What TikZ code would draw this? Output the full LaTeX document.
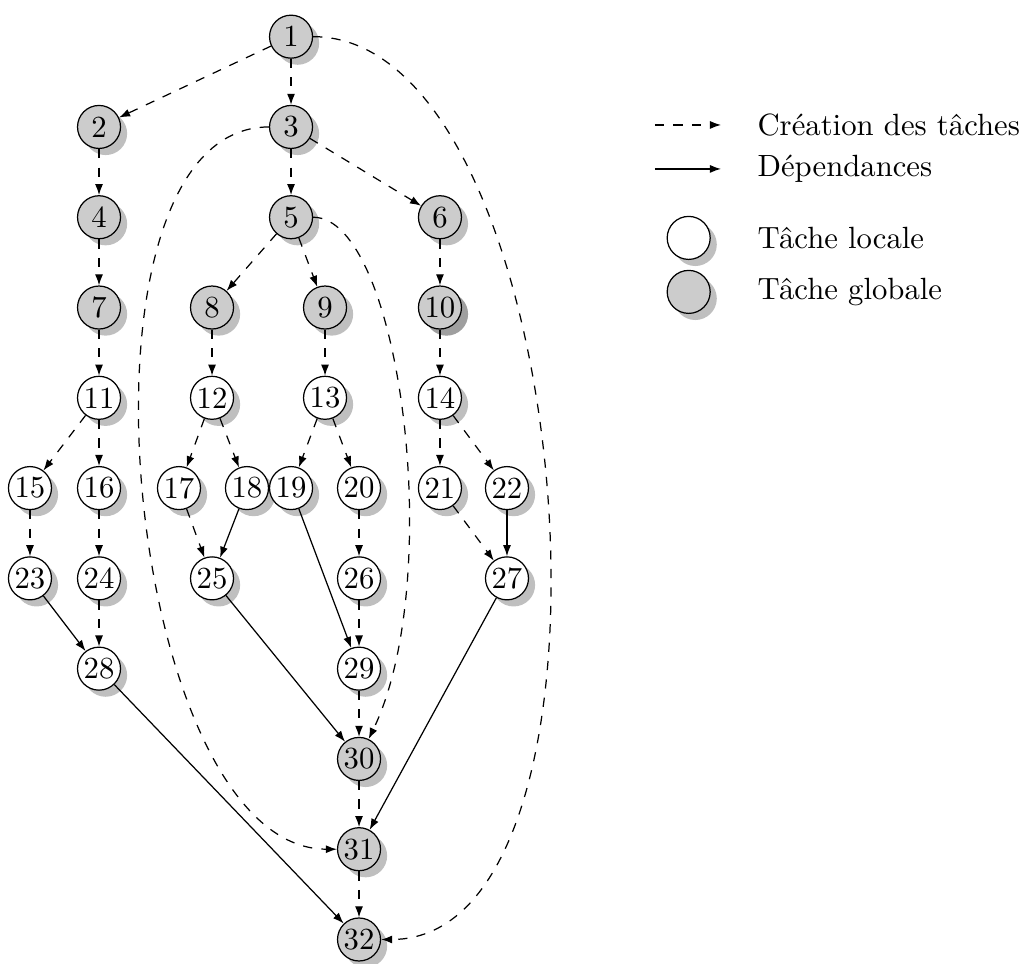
\documentclass[tikz,border=0pt]{standalone}
\usepackage{tikz}
\usetikzlibrary{arrows.meta,shadows}

\begin{document}
\begin{tikzpicture}[>={Latex[length=3.6pt,width=2.6pt]}, x=1cm, y=-1.033cm,
  tache/.style={draw, circle, inner sep=0.5pt, minimum size=14pt, drop shadow},
  locale/.style={tache, fill=white},
  globale/.style={tache, fill=black!20},
  cree/.style={->, dashed},
  dep/.style={->}]
  \useasboundingbox (0,-0.406) rectangle (11.728,10.27);

  % taches
  \node[globale] (t1) at (3.33,0) {1};
  \node[globale] (t2) at (1.133,1) {2};
  \node[globale] (t3) at (3.33,1) {3};
  \node[globale] (t4) at (1.133,2) {4};
  \node[globale] (t5) at (3.33,2) {5};
  \node[globale] (t6) at (5.034,2) {6};
  \node[globale] (t7) at (1.133,3) {7};
  \node[globale] (t8) at (2.426,3) {8};
  \node[globale] (t9) at (3.719,3) {9};
  \node[globale, drop shadow] (t10) at (5.034,3) {10};
  \node[locale] (t11) at (1.133,4) {11};
  \node[locale] (t12) at (2.426,4) {12};
  \node[locale] (t13) at (3.719,4) {13};
  \node[locale] (t14) at (5.034,4) {14};
  \node[locale] (t15) at (0.343,5) {15};
  \node[locale] (t16) at (1.133,5) {16};
  \node[locale] (t17) at (2.048,5) {17};
  \node[locale] (t18) at (2.826,5) {18};
  \node[locale] (t19) at (3.33,5) {19};
  \node[locale] (t20) at (4.108,5) {20};
  \node[locale] (t21) at (5.034,5) {21};
  \node[locale] (t22) at (5.801,5) {22};
  \node[locale] (t23) at (0.343,6) {23};
  \node[locale] (t24) at (1.133,6) {24};
  \node[locale] (t25) at (2.426,6) {25};
  \node[locale] (t26) at (4.108,6) {26};
  \node[locale] (t27) at (5.801,6) {27};
  \node[locale] (t28) at (1.133,7) {28};
  \node[locale] (t29) at (4.108,7) {29};
  \node[globale] (t30) at (4.108,8) {30};
  \node[globale] (t31) at (4.108,9) {31};
  \node[globale] (t32) at (4.108,10) {32};

  % creation des taches
  \draw[cree] (t1) -- (t2);
  \draw[cree] (t1) -- (t3);
  \draw[cree] (t2) -- (t4);
  \draw[cree] (t3) -- (t5);
  \draw[cree] (t3) -- (t6);
  \draw[cree] (t4) -- (t7);
  \draw[cree] (t5) -- (t8);
  \draw[cree] (t5) -- (t9);
  \draw[cree] (t6) -- (t10);
  \draw[cree] (t7) -- (t11);
  \draw[cree] (t8) -- (t12);
  \draw[cree] (t9) -- (t13);
  \draw[cree] (t10) -- (t14);
  \draw[cree] (t11) -- (t15);
  \draw[cree] (t11) -- (t16);
  \draw[cree] (t12) -- (t17);
  \draw[cree] (t12) -- (t18);
  \draw[cree] (t13) -- (t19);
  \draw[cree] (t13) -- (t20);
  \draw[cree] (t14) -- (t21);
  \draw[cree] (t14) -- (t22);
  \draw[cree] (t15) -- (t23);
  \draw[cree] (t16) -- (t24);
  \draw[cree] (t17) -- (t25);
  \draw[cree] (t20) -- (t26);
  \draw[cree] (t21) -- (t27);
  \draw[cree] (t24) -- (t28);
  \draw[cree] (t26) -- (t29);
  \draw[cree] (t29) -- (t30);
  \draw[cree] (t30) -- (t31);
  \draw[cree] (t31) -- (t32);
  \draw[cree] (t1) to[out=0, in=0, looseness=0.75] (t32);
  \draw[cree] (t3) to[out=180, in=180, looseness=0.75] (t31);
  \draw[cree] (t5) .. controls +(1.25,0) and +(1.0,-2.0) .. (t30);

  % dependances
  \draw[dep] (t18) -- (t25);
  \draw[dep] (t19) -- (t29);
  \draw[dep] (t22) -- (t27);
  \draw[dep] (t23) -- (t28);
  \draw[dep] (t25) -- (t30);
  \draw[dep] (t27) -- (t31);
  \draw[dep] (t28) -- (t32);

  % legende
  \coordinate (lc1) at (7.494,0.978);
  \coordinate (lc2) at (8.25,0.978);
  \coordinate (ld1) at (7.494,1.465);
  \coordinate (ld2) at (8.25,1.465);
  \draw[cree] (lc1) -- (lc2);
  \draw[dep] (ld1) -- (ld2);
  \node[locale] (lloc) at (7.88,2.229) {};
  \node[globale] (lglob) at (7.88,2.827) {};
  \node[anchor=west, inner sep=0pt] (txc) at (8.661,0.978) {Création des tâches};
  \node[anchor=west, inner sep=0pt] (txd) at (8.661,1.465) {Dépendances};
  \node[anchor=west, inner sep=0pt] (txl) at (8.661,2.229) {Tâche locale};
  \node[anchor=west, inner sep=0pt] (txg) at (8.661,2.827) {Tâche globale};
\end{tikzpicture}
\end{document}
